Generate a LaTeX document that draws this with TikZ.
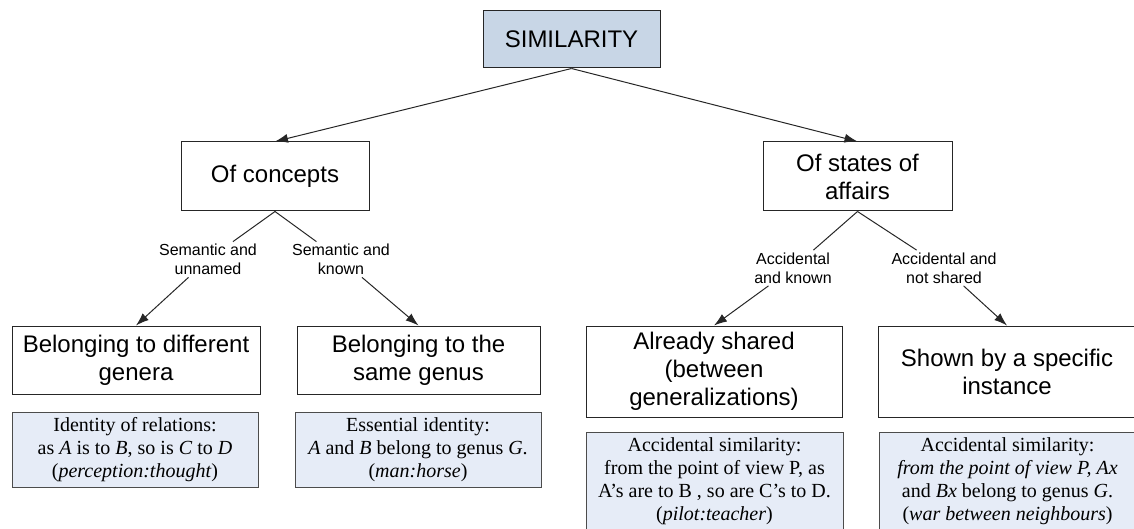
\documentclass[tikz,border=0pt]{standalone}
\usepackage{fontspec}
\setmainfont{Liberation Serif}
\setsansfont{Liberation Sans}
\usetikzlibrary{arrows.meta}
\definecolor{topblue}{HTML}{C8D6E6}
\definecolor{noteblue}{HTML}{E6ECF7}
\begin{document}
\begin{tikzpicture}[x=0.5pt,y=-0.5pt,line width=0.5pt,draw=black!85,>={Latex[length=6.5pt,width=4.5pt]}]
	\def \rowzero{39.5}
	\def \rowone{176.5}
	\def \rowlabel{259.5}
	\def \rowlabelr{268}
	\def \rowtwo{360}
	\def \rowtwor{371.5}
	\def \rowthree{449.5}
	\def \rowthreer{481}
	\tikzstyle{top-node}=[draw,fill=topblue,align=center,inner sep=0pt,font=\sffamily\fontsize{12}{14}\selectfont,minimum width=88.5pt,minimum height=28.5pt]
	\tikzstyle{c-node}=[draw,fill=white,align=center,inner sep=0pt,font=\sffamily\fontsize{12}{14}\selectfont]
	\tikzstyle{e-node}=[draw=black!70,fill=noteblue,align=center,inner sep=0pt,font=\rmfamily\fontsize{10}{11.4}\selectfont]
	\tikzstyle{annot}=[align=center,inner sep=1pt,font=\sffamily\fontsize{8}{9.5}\selectfont]
	\useasboundingbox (0,0) rectangle (1134,529);
	\clip (0,0) rectangle (1134,529);
	% root
	\node[top-node] (sim) at (571.5,\rowzero) {SIMILARITY};
	
	% first split
	\node[c-node,minimum width=94pt,minimum height=34.5pt] (concepts) at (275,\rowone) {Of concepts};
	\node[c-node,minimum width=94.5pt,minimum height=34.5pt] (states) at (857.5,\rowone) {Of states of\\affairs};
	
	% kinds of similarity
	\node[c-node,minimum width=124pt,minimum height=34pt] (diffgen) at (136,\rowtwo) {Belonging to different\\genera};
	\node[c-node,minimum width=121.5pt,minimum height=34pt] (samegen) at (418.5,\rowtwo) {Belonging to the\\same genus};
	\node[c-node,minimum width=128pt,minimum height=45.5pt] (shared) at (714,\rowtwor) {Already shared\\(between\\generalizations)};
	\node[c-node,minimum width=128.5pt,minimum height=45.5pt] (instance) at (1007,\rowtwor) {Shown by a specific\\instance};
	
	% examples
	\node[e-node,minimum width=123pt,minimum height=37.5pt] (exa) at (135,\rowthree) {Identity of relations:\\as \textit{A} is to \textit{B}, so is \textit{C} to \textit{D}\\(\textit{perception:thought})};
	\node[e-node,minimum width=123pt,minimum height=37.5pt] (exb) at (418,\rowthree) {Essential identity:\\\textit{A} and \textit{B} belong to genus \textit{G}.\\(\textit{man:horse})};
	\node[e-node,minimum width=128.5pt,minimum height=49pt] (exc) at (714.5,\rowthreer) {Accidental similarity:\\from the point of view P, as\\A’s are to B , so are C’s to D.\\(\textit{pilot:teacher})};
	\node[e-node,minimum width=128.5pt,minimum height=49pt] (exd) at (1007.5,\rowthreer) {Accidental similarity:\\\textit{from the point of view P, Ax}\\and \textit{Bx} belong to genus \textit{G}.\\(\textit{war between neighbours})};
	
	% edge labels
	\node[annot] (lsu) at (208,\rowlabel) {Semantic and\\unnamed};
	\node[annot] (lsk) at (341,\rowlabel) {Semantic and\\known};
	\node[annot] (lak) at (793,\rowlabelr) {Accidental\\and known};
	\node[annot] (lan) at (944,\rowlabelr) {Accidental and\\not shared};
	
	\path
		(sim.south)	edge[->]	(concepts.north)
		(sim.south)	edge[->]	(states.north)
		%
		(concepts.south)	edge	(lsu)
		(lsu)	edge[->]	(diffgen.north)
		(concepts.south)	edge	(lsk)
		(lsk)	edge[->]	(samegen.north)
		%
		(states.south)	edge	(lak)
		(lak)	edge[->]	(shared.north)
		(states.south)	edge	(lan)
		(lan)	edge[->]	(instance.north);
\end{tikzpicture}
\end{document}
